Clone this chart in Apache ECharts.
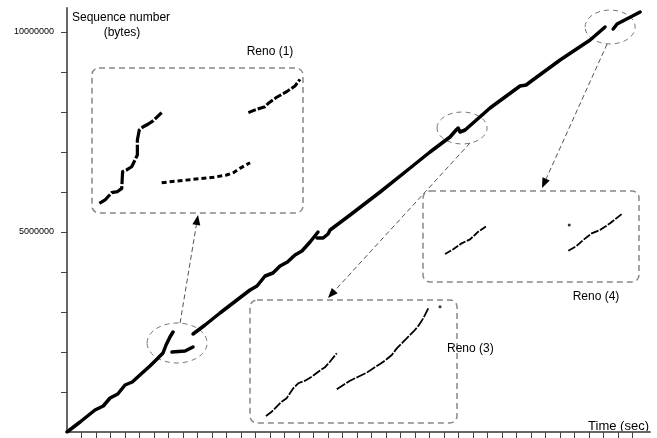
<!DOCTYPE html>
<html>
<head>
<meta charset="utf-8">
<script src="https://cdn.jsdelivr.net/npm/echarts@6/dist/echarts.min.js"></script>
<style>
html,body{margin:0;padding:0;background:#fff}
#chart{width:657px;height:438px}
</style>
</head>
<body>
<div id="chart"></div>
<script>
// main trace, [time (sec), sequence number (bytes)]
var traceStart = [[0,0],[0.9,250000],[1.93,550000],[2.5,650000],[2.97,850000],[3.5,950000],[4.0,1175000],
  [4.5,1250000],[5.03,1425000],[5.72,1650000],[6.28,1850000],[6.62,1975000],[6.83,2175000],[7.1,2375000],[7.31,2500000]];
var traceRetx1 = [[7.24,2000000],[8.14,2025000],[8.69,2125000]];
var traceMid = [[8.69,2450000],[9.52,2675000],[10.55,2975000],[11.72,3300000],[12.62,3550000],
  [13.1,3650000],[13.66,3900000],[14.2,3975000],[14.69,4150000],[15.2,4250000],[15.72,4425000],
  [16.2,4525000],[16.76,4750000],[17.31,5000000]];
var traceLate = [[17.24,4850000],[17.66,4850000],[18.0,4950000],[18.14,5050000],[19.52,5425000],
  [21.59,6000000],[23.66,6600000],[25.03,7000000],[26.41,7375000],[26.83,7550000],[26.97,7600000],
  [27.1,7500000],[27.45,7550000],[29.17,8100000],[31.24,8650000],[31.66,8675000],[31.93,8750000],
  [34.0,9300000],[36.07,9800000],[37.1,10125000]];
var traceEnd = [[37.66,10075000],[37.93,10200000],[39.52,10500000]];

// y ticks and labels
var yTicks = [1000000,2000000,3000000,4000000,5000000,6000000,7000000,8000000,9000000,10000000];
var yLabels = [5000000,10000000];
var xTicks = [];
for (var t = 1; t <= 39; t++) xTicks.push(t);

// zoomed insets, in % of the inset box
var reno1A = [[3.5,6.7],[6.2,9.0],[9.3,14.0],[12.0,14.7],[14.1,17.0],[14.5,18.1],[14.5,28.5],[16.4,29.7],
  [18.8,31.9],[20.4,36.6],[21.5,40.0],[21.5,50.3],[22.4,57.2],[24.3,59.5],[26.7,61.4],[29.1,63.7],[33.0,69.2]];
var reno1B = [[33.0,20.9],[41.7,22.3],[48.0,23.2],[57.5,24.6],[63.8,26.2],[67.0,27.8],[70.1,30.8],[74.9,34.7]];
var reno1C = [[74.1,69.2],[78.1,71.5],[82.0,73.3],[83.6,75.7],[87.5,79.8],[92.3,83.7],[96.2,87.6],[98.6,92.2]];

var reno3A = [[7.7,5.7],[10.5,9.2],[12.9,13.3],[15.3,17.3],[17.7,20.1],[19.3,24.1],[20.9,28.2],[23.3,32.3],
  [26.6,34.4],[29.8,37.6],[33.0,41.7],[36.2,45.3],[38.6,49.8],[41.9,56.7]];
var reno3B = [[41.9,27.4],[45.1,30.9],[48.3,34.4],[52.3,37.6],[56.4,40.9],[59.6,44.5],[62.8,48.0],[66.0,51.8],
  [68.5,55.3],[70.9,60.7],[74.1,66.1],[76.5,70.2],[78.9,74.2],[81.3,78.9],[83.7,85.1],[86.1,93.2]];
var reno3Dot = [[91.8,94.6]];

var reno4A = [[10.2,30.8],[14.0,35.9],[17.9,42.5],[21.8,46.9],[25.6,55.3],[29.5,61.5]];
var reno4B = [[67.3,34.4],[71.1,39.6],[74.2,46.2],[78.1,53.5],[81.9,57.1],[86.6,64.5],[92.0,74.7]];
var reno4Dot = [[67.7,62.6]];

// where each event sits on the main trace (data coords)
var reno1Spot = [7.59,2225000];
var reno3Spot = [27.24,7600000];
var reno4Spot = [37.45,10125000];

var insetBoxes = [
  {left:92, top:68, width:211, height:145},
  {left:250, top:300, width:207, height:123},
  {left:423, top:191, width:216, height:91}
];

var myChart = echarts.init(document.getElementById('chart'));

function seg(data, xi, width, dash){
  return {
    type:'line', xAxisIndex:xi, yAxisIndex:xi, data:data, showSymbol:false, silent:true,
    lineStyle:{color:'#000', width:width, type: dash || 'solid', cap: dash ? 'butt' : 'round', join:'round'}
  };
}
function dot(data, xi){
  return {type:'scatter', xAxisIndex:xi, yAxisIndex:xi, data:data, symbolSize:3, itemStyle:{color:'#000'}, silent:true};
}

var grids = [{left:67, right:7, top:8, bottom:6}];
var xAxes = [{
  type:'value', min:0, max:40.2,
  axisLine:{lineStyle:{color:'#666', width:2}},
  axisTick:{show:true, inside:false, length:6, customValues:xTicks, lineStyle:{color:'#444', width:1}},
  axisLabel:{show:false}, splitLine:{show:false}
}];
var yAxes = [{
  type:'value', min:0, max:10600000,
  axisLine:{show:true, lineStyle:{color:'#666', width:2}},
  axisTick:{show:true, inside:false, length:6, customValues:yTicks, lineStyle:{color:'#444', width:1}},
  axisLabel:{show:true, customValues:yLabels, margin:13, fontSize:9, color:'#000', fontFamily:'Liberation Sans',
    formatter:function(v){ return String(v); }},
  splitLine:{show:false}
}];
insetBoxes.forEach(function(b){
  grids.push({left:b.left, top:b.top, width:b.width, height:b.height});
  xAxes.push({type:'value', gridIndex:grids.length-1, min:0, max:100, show:false});
  yAxes.push({type:'value', gridIndex:grids.length-1, min:0, max:100, show:false});
});

var option = {
  animation:false,
  backgroundColor:'#fff',
  grid:grids, xAxis:xAxes, yAxis:yAxes,
  series:[
    seg(traceStart,0,3.5), seg(traceRetx1,0,3.5), seg(traceMid,0,3.5), seg(traceLate,0,3.5), seg(traceEnd,0,3.5),
    seg(reno1A,1,3.2,[14,2]), seg(reno1B,1,3,[5,3]), seg(reno1C,1,3,[8,2]),
    seg(reno3A,2,1.8,[9,1.5]), seg(reno3B,2,1.8,[10,1.5]), dot(reno3Dot,2),
    seg(reno4A,3,1.8,[7,1.5]), seg(reno4B,3,1.8,[8,1.5]), dot(reno4Dot,3)
  ]
};
myChart.setOption(option);

function arrow(x1,y1,x2,y2){
  var a = Math.atan2(y2-y1, x2-x1), L = 10, W = 4;
  var bx = x2 - L*Math.cos(a), by = y2 - L*Math.sin(a);
  return [
    {type:'line', shape:{x1:x1,y1:y1,x2:bx,y2:by}, style:{stroke:'#555', lineWidth:1, lineDash:[5,3]}, silent:true},
    {type:'polygon', shape:{points:[[x2,y2],[bx+W*Math.sin(a),by-W*Math.cos(a)],[bx-W*Math.sin(a),by+W*Math.cos(a)]]},
     style:{fill:'#000'}, silent:true}
  ];
}
function ring(p, rx, ry){
  return {type:'ellipse', shape:{cx:p[0], cy:p[1], rx:rx, ry:ry},
    style:{fill:'none', stroke:'#777', lineWidth:1, lineDash:[5,4]}, silent:true};
}

var p1 = myChart.convertToPixel({gridIndex:0}, reno1Spot);
var p3 = myChart.convertToPixel({gridIndex:0}, reno3Spot);
var p4 = myChart.convertToPixel({gridIndex:0}, reno4Spot);

var g = [];
insetBoxes.forEach(function(b){
  g.push({type:'rect', shape:{x:b.left, y:b.top, width:b.width, height:b.height, r:7},
    style:{fill:'none', stroke:'#888', lineWidth:1.5, lineDash:[6,4]}, silent:true});
});
g.push(ring(p1,30,20), ring(p3,25,16), ring(p4,25,17));
g = g.concat(arrow(p1[0]+3, p1[1]-20, 198, 215));
g = g.concat(arrow(p3[0]+8, p3[1]+15, 328, 298));
g = g.concat(arrow(p4[0]-3, p4[1]+17, 542, 188));

var txt = function(x,y,s,size,align){
  return {type:'text', x:x, y:y, silent:true,
    style:{text:s, fill:'#000', font:(size||12)+'px "Liberation Sans", Arial, sans-serif', textAlign:align||'left', textVerticalAlign:'middle'}};
};
g.push(txt(72,18,'Sequence number',12));
g.push(txt(122,33,'(bytes)',12,'center'));
g.push(txt(270,52,'Reno (1)',12,'center'));
g.push(txt(447,349,'Reno (3)',12));
g.push(txt(596,297,'Reno (4)',12,'center'));
g.push(txt(649,426,'Time (sec)',13,'right'));

myChart.setOption({graphic:g});
</script>
</body>
</html>
